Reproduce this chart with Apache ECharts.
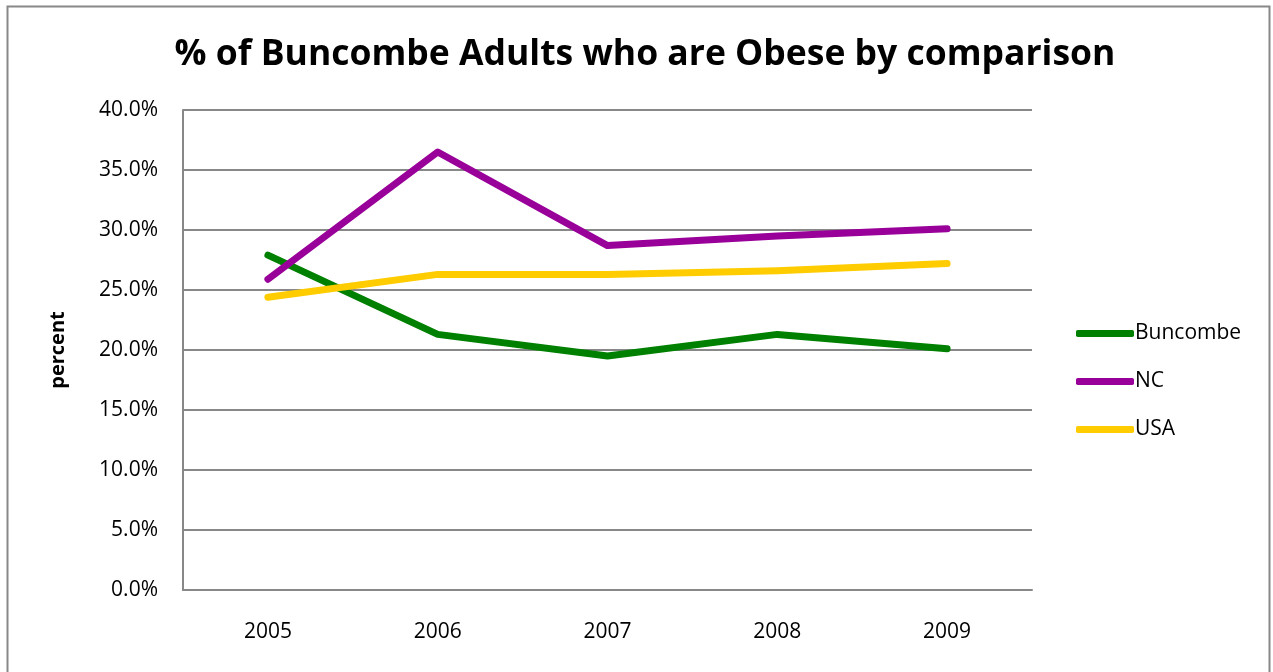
<!DOCTYPE html>
<html><head><meta charset="utf-8">
<script src="https://cdn.jsdelivr.net/npm/echarts@6/dist/echarts.min.js"></script>
<style>html,body{margin:0;padding:0;background:#fff}#c{width:1273px;height:672px}</style>
</head><body><div id="c"></div>
<script>
const years = ['2005','2006','2007','2008','2009'];
const buncombe = [27.9, 21.3, 19.5, 21.3, 20.1];
const nc = [25.9, 36.5, 28.7, 29.5, 30.1];
const usa = [24.4, 26.3, 26.3, 26.6, 27.2];
const yTicks = [0,5,10,15,20,25,30,35,40];

const chart = echarts.init(document.getElementById('c'));
const font = 'Open Sans, Liberation Sans, sans-serif';
const mk = (name, data, color) => ({
  name, type:'line', data, symbol:'none', smooth:false,
  lineStyle:{width:7, color, cap:'round', join:'round'}, itemStyle:{color}
});
chart.setOption({
  animation:false,
  title:{text:'% of Buncombe Adults who are Obese by comparison', left:640, top:32, textAlign:'center',
    textStyle:{fontFamily:font, fontWeight:'bold', fontSize:35.5, color:'#000'}},
  graphic:[{type:'rect', shape:{x:7.5,y:6.5,width:1262,height:680}, style:{fill:null, stroke:'#888', lineWidth:2}}],
  legend:{orient:'vertical', left:1071, top:318, itemGap:27, itemWidth:58, itemHeight:7,
    icon:'roundRect', textStyle:{fontFamily:font, fontSize:21, color:'#000', padding:[0,0,0,-4]},
    data:['Buncombe','NC','USA']},
  grid:{left:183, right:241, top:110, bottom:82},
  xAxis:{type:'category', data:years, boundaryGap:true,
    axisLine:{lineStyle:{color:'#888', width:2}}, axisTick:{show:false},
    axisLabel:{fontFamily:font, fontSize:21, color:'#000', margin:32}},
  yAxis:{type:'value', min:0, max:40, interval:5, name:'percent', nameLocation:'middle', nameGap:115, nameRotate:90,
    nameTextStyle:{fontFamily:font, fontWeight:'bold', fontSize:20, color:'#000'},
    axisLine:{show:true, lineStyle:{color:'#888', width:2}}, axisTick:{show:false},
    splitLine:{lineStyle:{color:'#888', width:2}},
    axisLabel:{fontFamily:font, fontSize:21, color:'#000', margin:25, formatter:v=>yTicks.includes(v)?v.toFixed(1)+'%':''}},
  series:[mk('Buncombe', buncombe, '#008000'), mk('NC', nc, '#990099'), mk('USA', usa, '#FFCC00')]
});
</script></body></html>
